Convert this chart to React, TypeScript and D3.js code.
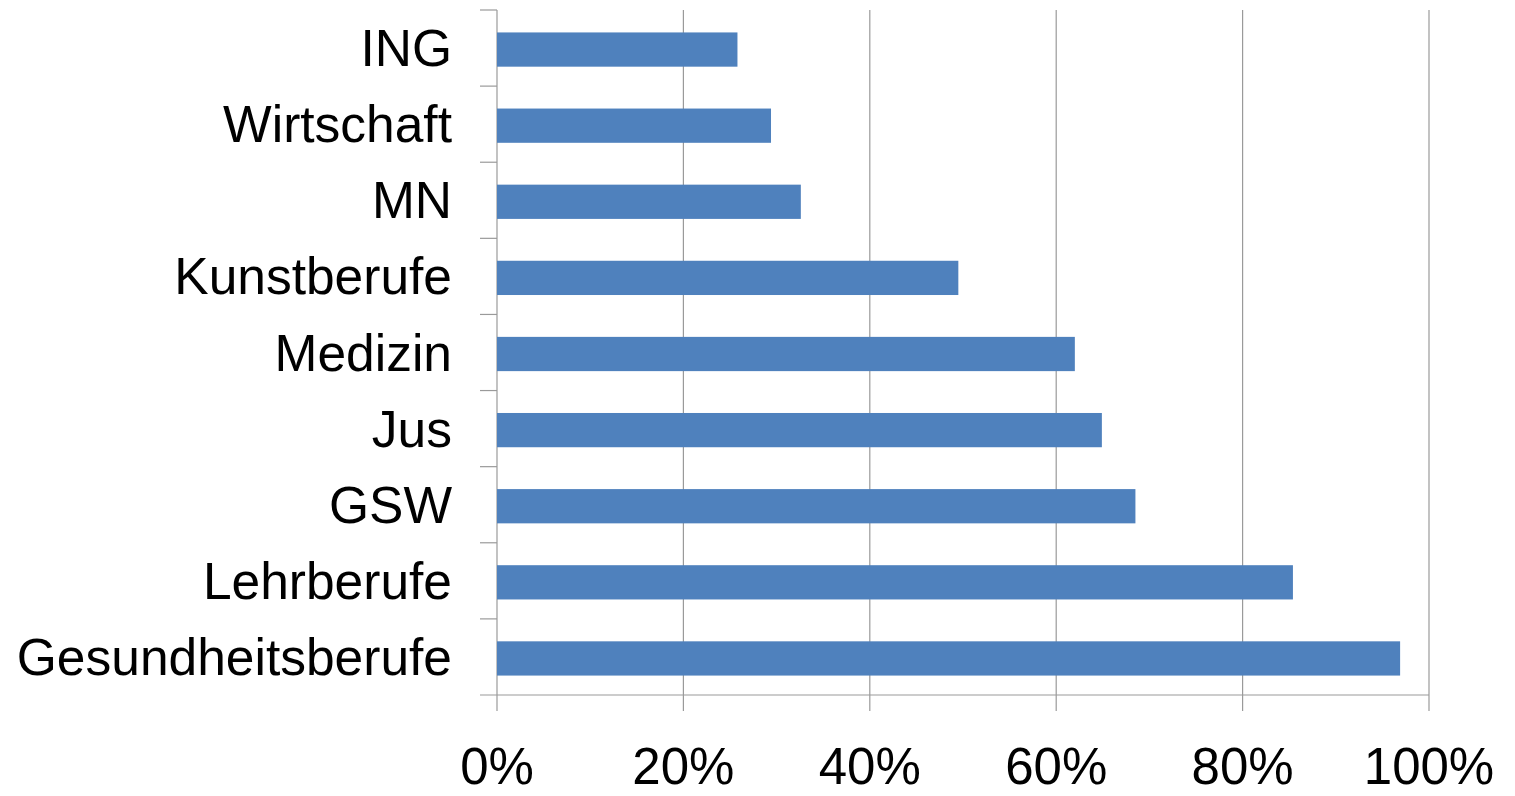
import React from "react";
import { scaleLinear, scaleBand } from "d3";

const categories = [
  "ING",
  "Wirtschaft",
  "MN",
  "Kunstberufe",
  "Medizin",
  "Jus",
  "GSW",
  "Lehrberufe",
  "Gesundheitsberufe",
];
const values = [0.258, 0.294, 0.326, 0.495, 0.62, 0.649, 0.685, 0.854, 0.969];
const ticks = [0, 0.2, 0.4, 0.6, 0.8, 1.0];
const tickLabels = ["0%", "20%", "40%", "60%", "80%", "100%"];

const WIDTH = 1515;
const HEIGHT = 796;
const MARGIN = { top: 10, right: 86, bottom: 101, left: 497 };
const FONT = "'Liberation Sans', Arial, sans-serif";

export default function App() {
  const boundsWidth = WIDTH - MARGIN.left - MARGIN.right;
  const boundsHeight = HEIGHT - MARGIN.top - MARGIN.bottom;

  const xScale = scaleLinear().domain([0, 1]).range([0, boundsWidth]);
  const yScale = scaleBand<string>()
    .domain(categories)
    .range([0, boundsHeight])
    .paddingInner(0.55)
    .paddingOuter(0.275);
  const bandTop = (i: number) => i * (boundsHeight / categories.length);

  return (
    <svg
      width={WIDTH}
      height={HEIGHT}
      style={{ position: "absolute", left: 0, top: 0 }}
    >
      <rect width={WIDTH} height={HEIGHT} fill="#fff" />
      <g transform={`translate(${MARGIN.left}, ${MARGIN.top})`}>
        {/* vertical gridlines + tick marks */}
        {ticks.map((t, i) => (
          <line
            key={i}
            x1={xScale(t)}
            x2={xScale(t)}
            y1={0}
            y2={boundsHeight + 16}
            stroke="#9a9a9a"
            strokeWidth={1.2}
          />
        ))}
        {/* category boundary ticks */}
        {categories.map((_, i) => (
          <line
            key={i}
            x1={-17}
            x2={0}
            y1={bandTop(i)}
            y2={bandTop(i)}
            stroke="#9a9a9a"
            strokeWidth={1.2}
          />
        ))}
        <line
          x1={-17}
          x2={boundsWidth}
          y1={boundsHeight}
          y2={boundsHeight}
          stroke="#9a9a9a"
          strokeWidth={1.2}
        />
        {/* bars */}
        {categories.map((c, i) => (
          <rect
            key={c}
            x={xScale(0)}
            y={(yScale(c) ?? 0) + 1.5}
            width={xScale(values[i])}
            height={yScale.bandwidth()}
            fill="#4f81bd"
          />
        ))}
        {/* category labels */}
        {categories.map((c) => (
          <text
            key={c}
            x={-45}
            y={(yScale(c) ?? 0) + yScale.bandwidth() / 2 + 18}
            textAnchor="end"
            fontFamily={FONT}
            fontSize={51.5}
            fill="#000"
          >
            {c}
          </text>
        ))}
        {/* x tick labels */}
        {ticks.map((t, i) => (
          <text
            key={i}
            x={xScale(t)}
            y={boundsHeight + 89}
            textAnchor="middle"
            fontFamily={FONT}
            fontSize={51}
            fill="#000"
          >
            {tickLabels[i]}
          </text>
        ))}
      </g>
    </svg>
  );
}
